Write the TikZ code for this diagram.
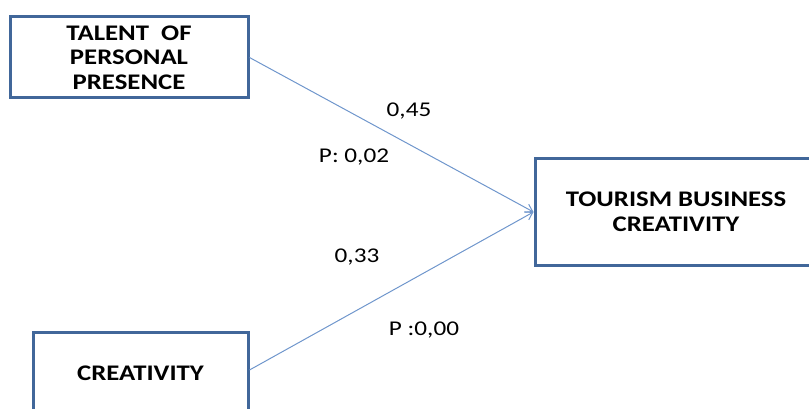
\documentclass[tikz,border=0pt]{standalone}
\usepackage{fontspec}
\setmainfont{Carlito}[FakeStretch=1.2]
\usetikzlibrary{arrows.meta}
\definecolor{boxblue}{HTML}{41679A}
\definecolor{lineblue}{HTML}{6F96CC}
\tikzset{
  varbox/.style={draw=boxblue, line width=3pt, fill=white, inner sep=0pt,
    align=center, font=\bfseries\fontsize{22.3}{24.5}\selectfont, text=black},
  coef/.style={font=\fontsize{21}{25}\selectfont, text=black, inner sep=0pt},
  path/.style={draw=lineblue, line width=1pt, -{Straight Barb[length=7pt,width=9pt,line width=1pt]}}
}
\begin{document}
\begin{tikzpicture}[x=1pt,y=-1pt]
\useasboundingbox (0,0) rectangle (809,409);
\node[varbox, minimum width=238pt, minimum height=81pt] (talent) at (129,57.5) {TALENT~~OF\\PERSONAL\\PRESENCE};
\node[varbox, minimum width=282pt, minimum height=106pt] (tbc) at (676,212) {TOURISM BUSINESS\\CREATIVITY};
\node[varbox, minimum width=215pt, minimum height=82pt] (creat) at (140.5,373) {CREATIVITY};
\draw[path] (talent.east) -- (tbc.west);
\draw[path] ([yshift=3pt]creat.east) -- (tbc.west);
\node[coef] (c1) at (409,111) {0,45};
\node[coef] (p1) at (354,157) {P: 0,02};
\node[coef] (c2) at (357,257) {0,33};
\node[coef] (p2) at (424,330) {P :0,00};
\end{tikzpicture}
\end{document}
